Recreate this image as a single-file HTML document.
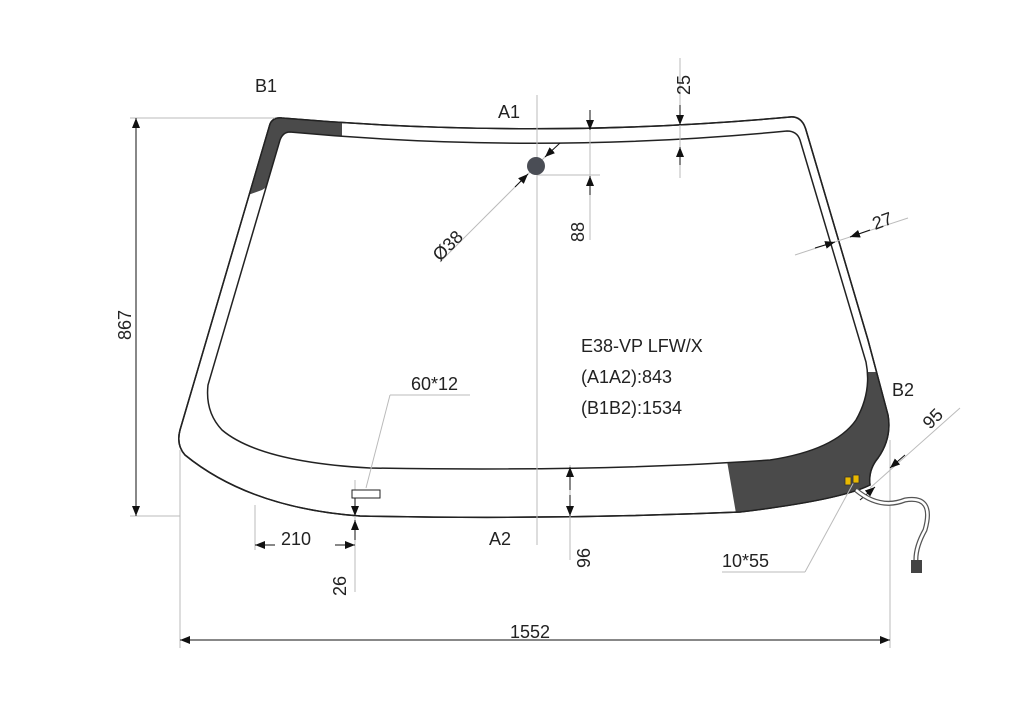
<!DOCTYPE html>
<html><head><style>
html,body{margin:0;padding:0;background:#fff;}
svg{display:block;}
text{font-family:"Liberation Sans",Arial,sans-serif;fill:#222;}
</style></head><body>
<svg width="1024" height="723" viewBox="0 0 1024 723" xmlns="http://www.w3.org/2000/svg">
<defs>
<clipPath id="outer"><path id="op" d="M282,118 Q537,140 790,117 Q802,116 806,130 L868,340 L888,415 Q892,438 878,458 Q868,470 870,485 Q840,500 740,512 Q550,520 360,516 Q250,508 185,455 Q176,445 180,430 L270,124 Q273,117 282,118 Z"/></clipPath>
<marker id="ar" markerWidth="10" markerHeight="8" refX="10" refY="4" orient="auto" markerUnits="userSpaceOnUse"><path d="M0,0 L10,4 L0,8 Z" fill="#111"/></marker>
</defs>
<use href="#op" fill="#fff" stroke="#222" stroke-width="1.5"/>
<g clip-path="url(#outer)" fill="#4a4a4a">
<polygon points="248,195 260,105 342,105 342,140 262,190"/>
<polygon points="726,455 858,372 900,372 900,525 738,525"/>
</g>
<use href="#op" fill="none" stroke="#222" stroke-width="1.5"/>
<path d="M290,132 Q537,155 787,131 Q797,131 800,140 L866,362 Q872,392 856,420 Q835,450 770,460 Q600,472 370,468 Q260,462 222,430 Q205,412 208,385 L280,140 Q283,132 290,132 Z" fill="#fff" stroke="#222" stroke-width="1.5"/>
<g stroke="#bbb" stroke-width="1" fill="none">
<line x1="130" y1="118" x2="275" y2="118"/>
<line x1="130" y1="516" x2="180" y2="516"/>
<line x1="180" y1="450" x2="180" y2="648"/>
<line x1="890" y1="440" x2="890" y2="648"/>
<line x1="537" y1="95" x2="537" y2="545"/>
<line x1="537" y1="175" x2="600" y2="175"/>
<line x1="680" y1="58" x2="680" y2="178"/>
<line x1="590" y1="118" x2="590" y2="240"/>
<line x1="570" y1="465" x2="570" y2="560"/>
<line x1="355" y1="480" x2="355" y2="592"/>
<line x1="255" y1="505" x2="255" y2="550"/>
<line x1="795" y1="255" x2="908" y2="218"/>
<line x1="870" y1="488" x2="960" y2="408"/>
<line x1="855" y1="480" x2="805" y2="572"/>
<line x1="805" y1="572" x2="722" y2="572"/>
<line x1="552" y1="150" x2="440" y2="262"/>
<line x1="390" y1="395" x2="366" y2="488"/>
<line x1="390" y1="395" x2="470" y2="395"/>
</g>
<circle cx="536" cy="166" r="9" fill="#4a4d55"/>
<g stroke="#111" stroke-width="1" fill="none">
<line x1="136" y1="140" x2="136" y2="118" marker-end="url(#ar)"/>
<line x1="136" y1="495" x2="136" y2="516" marker-end="url(#ar)"/>
<line x1="136" y1="140" x2="136" y2="495"/>
<line x1="200" y1="640" x2="180" y2="640" marker-end="url(#ar)"/>
<line x1="870" y1="640" x2="890" y2="640" marker-end="url(#ar)"/>
<line x1="200" y1="640" x2="870" y2="640"/>
<line x1="570" y1="490" x2="570" y2="467" marker-end="url(#ar)"/>
<line x1="570" y1="495" x2="570" y2="516" marker-end="url(#ar)"/>
<line x1="590" y1="110" x2="590" y2="130" marker-end="url(#ar)"/>
<line x1="590" y1="195" x2="590" y2="176" marker-end="url(#ar)"/>
<line x1="680" y1="105" x2="680" y2="125" marker-end="url(#ar)"/>
<line x1="680" y1="165" x2="680" y2="147" marker-end="url(#ar)"/>
<line x1="275" y1="545" x2="255" y2="545" marker-end="url(#ar)"/>
<line x1="335" y1="545" x2="355" y2="545" marker-end="url(#ar)"/>
<line x1="355" y1="495" x2="355" y2="516" marker-end="url(#ar)"/>
<line x1="355" y1="540" x2="355" y2="520" marker-end="url(#ar)"/>
<line x1="815" y1="248" x2="835" y2="242" marker-end="url(#ar)"/>
<line x1="870" y1="230" x2="850" y2="237" marker-end="url(#ar)"/>
<line x1="905" y1="455" x2="890" y2="468" marker-end="url(#ar)"/>
<line x1="860" y1="500" x2="875" y2="487" marker-end="url(#ar)"/>
<line x1="515" y1="187" x2="528" y2="174" marker-end="url(#ar)"/>
<line x1="560" y1="143" x2="545" y2="157" marker-end="url(#ar)"/>
</g>
<rect x="352" y="490" width="28" height="8" fill="#fff" stroke="#222"/>
<path d="M856,490 Q880,510 905,500 Q935,495 925,530 Q915,548 916,562" fill="none" stroke="#555" stroke-width="5"/>
<path d="M856,490 Q880,510 905,500 Q935,495 925,530 Q915,548 916,562" fill="none" stroke="#fff" stroke-width="2.5"/>
<rect x="911" y="560" width="11" height="13" fill="#444"/>
<rect x="845" y="477" width="6" height="8" fill="#e8b800" stroke="#333" stroke-width="0.8"/>
<rect x="853" y="475" width="6" height="8" fill="#e8b800" stroke="#333" stroke-width="0.8"/>
<g font-size="18">
<text x="255" y="92">B1</text>
<text x="498" y="118">A1</text>
<text x="489" y="545">A2</text>
<text x="892" y="396">B2</text>
<text x="510" y="638">1552</text>
<text x="281" y="545">210</text>
<text x="722" y="567">10*55</text>
<text x="411" y="390">60*12</text>
<text x="581" y="352">E38-VP LFW/X</text>
<text x="581" y="383">(A1A2):843</text>
<text x="581" y="414">(B1B2):1534</text>
<text transform="translate(131,340) rotate(-90)">867</text>
<text transform="translate(690,95) rotate(-90)">25</text>
<text transform="translate(584,242) rotate(-90)">88</text>
<text transform="translate(590,568) rotate(-90)">96</text>
<text transform="translate(346,596) rotate(-90)">26</text>
<text transform="translate(440,262) rotate(-45)">Ø38</text>
<text transform="translate(875,230) rotate(-20)">27</text>
<text transform="translate(930,430) rotate(-45)">95</text>
</g>
</svg>
</body></html>
